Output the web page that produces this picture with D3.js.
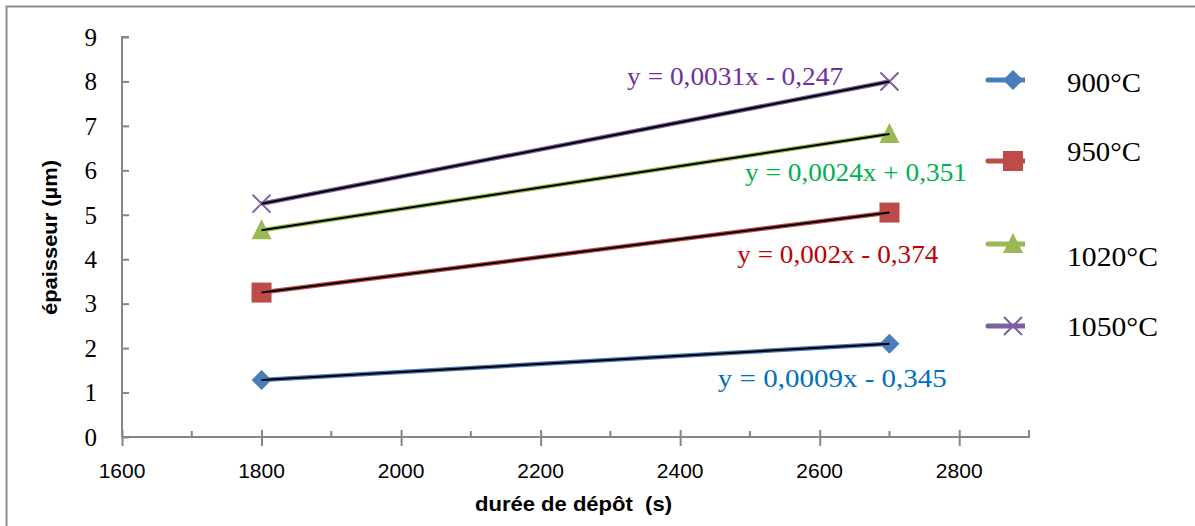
<!DOCTYPE html>
<html><head><meta charset="utf-8">
<script src="https://cdn.jsdelivr.net/npm/d3@7"></script>
<style>body{margin:0;background:#fff}svg{display:block}</style>
</head><body><svg id="c" width="1195" height="526"></svg>
<script>
const durations = [1800, 2700];
const seriesNames = ["900°C", "950°C", "1020°C", "1050°C"];
const values900 = [1.28, 2.10];
const values950 = [3.25, 5.05];
const values1020 = [4.65, 6.82];
const values1050 = [5.25, 8.00];
const equations = ["y = 0,0009x - 0,345", "y = 0,002x - 0,374", "y = 0,0024x + 0,351", "y = 0,0031x - 0,247"];
const xTicks = [1600, 1800, 2000, 2200, 2400, 2600, 2800];
const xMinorTicks = [1700, 1900, 2100, 2300, 2500, 2700];
const yTicks = [0, 1, 2, 3, 4, 5, 6, 7, 8, 9];

const seriesValues = [values900, values950, values1020, values1050];
const colors = ["#4a7ebb", "#be4b48", "#98b954", "#7d60a0"];
const eqColors = ["#0070c0", "#c00000", "#00b050", "#7030a0"];
const symbols = ["diamond", "square", "triangle", "x"];
// label anchor in data coordinates (x, baseline y) and width in px
const eqPos = [[2454, 1.12], [2482, 3.92], [2493, 5.76], [2324, 7.92]];
const eqWidth = [229, 201, 222, 216];

const svg = d3.select("#c");
svg.append("rect").attr("x", 6.5).attr("y", 6.5).attr("width", 1200).attr("height", 530)
  .attr("fill", "#fff").attr("stroke", "#8c8c8c").attr("stroke-width", 2);

const x = d3.scaleLinear().domain([1600, 2900]).range([122, 1029]);
const y = d3.scaleLinear().domain([0, 9]).range([437, 37]);
const axisColor = "#868686";
const serif = "'Liberation Serif', 'DejaVu Serif', serif";
const sans = "'Liberation Sans Narrow', 'Liberation Sans', sans-serif";

// y axis
const gy = svg.append("g").attr("transform", "translate(122,0)");
gy.call(d3.axisRight(y).tickValues(yTicks).tickSize(7).tickFormat(""));
gy.select(".domain").attr("stroke", axisColor).attr("stroke-width", 2).attr("d", `M7,${y(9)}H0V${y(0)}`);
gy.selectAll(".tick line").attr("stroke", axisColor).attr("stroke-width", 2);
svg.append("g").selectAll("text").data(yTicks).join("text")
  .attr("x", 97).attr("y", d => y(d)).attr("dy", "0.35em").attr("text-anchor", "end")
  .attr("font-family", serif).attr("font-size", 25)
  .attr("fill", "#000").text(d => d);

// x axis
const gx = svg.append("g").attr("transform", `translate(0,${y(0)})`);
gx.call(d3.axisBottom(x).tickValues(xTicks).tickSizeInner(9).tickSizeOuter(0).tickFormat(""));
gx.select(".domain").attr("stroke", axisColor).attr("stroke-width", 2).attr("d", `M${x(1600)},0H${x(2900)}V-7`);
gx.selectAll(".tick line").attr("stroke", axisColor).attr("stroke-width", 2).attr("y1", -7).attr("y2", 9);
gx.append("g").selectAll("line").data(xMinorTicks).join("line")
  .attr("x1", d => x(d)).attr("x2", d => x(d)).attr("y1", -6).attr("y2", 0)
  .attr("stroke", axisColor).attr("stroke-width", 2);
svg.append("g").selectAll("text").data(xTicks).join("text")
  .attr("x", d => x(d)).attr("y", 478).attr("text-anchor", "middle")
  .attr("font-family", sans).attr("font-size", 21)
  .attr("fill", "#000").text(d => d);

// axis titles
svg.append("text").attr("x", 475).attr("y", 511)
  .attr("font-family", sans).attr("font-weight", "bold")
  .attr("font-size", 21).attr("fill", "#000").attr("xml:space", "preserve")
  .attr("textLength", 197).attr("lengthAdjust", "spacingAndGlyphs").text("durée de dépôt  (s)");
svg.append("text").attr("transform", "translate(57,315) rotate(-90)")
  .attr("font-family", sans).attr("font-weight", "bold")
  .attr("font-size", 21).attr("fill", "#000")
  .attr("textLength", 155).attr("lengthAdjust", "spacingAndGlyphs").text("épaisseur (µm)");

function drawMarker(g, type, cx, cy, color) {
  if (type === "diamond") {
    g.append("path").attr("d", `M${cx},${cy-10}L${cx+10},${cy}L${cx},${cy+10}L${cx-10},${cy}Z`).attr("fill", color);
  } else if (type === "square") {
    g.append("rect").attr("x", cx-10).attr("y", cy-10).attr("width", 20).attr("height", 20).attr("fill", color);
  } else if (type === "triangle") {
    g.append("path").attr("d", `M${cx},${cy-11}L${cx+10},${cy+9}L${cx-10},${cy+9}Z`).attr("fill", color);
  } else {
    g.append("path").attr("d", `M${cx-9},${cy-9}L${cx+9},${cy+9}M${cx+9},${cy-9}L${cx-9},${cy+9}`)
      .attr("stroke", color).attr("stroke-width", 2).attr("fill", "none");
  }
}

const line = d3.line().x(d => x(d[0])).y(d => y(d[1]));
seriesValues.forEach((vals, i) => {
  const pts = durations.map((d, j) => [d, vals[j]]);
  const g = svg.append("g");
  g.append("path").attr("d", line(pts)).attr("stroke", colors[i]).attr("stroke-width", 4.5).attr("fill", "none");
  pts.forEach(p => drawMarker(g, symbols[i], x(p[0]), y(p[1]), colors[i]));
  // linear trendline (black)
  g.append("path").attr("d", line(pts)).attr("stroke", "#000").attr("stroke-width", 2).attr("fill", "none");
  svg.append("text").attr("x", x(eqPos[i][0])).attr("y", y(eqPos[i][1]))
    .attr("font-family", serif).attr("font-size", 25)
    .attr("textLength", eqWidth[i]).attr("lengthAdjust", "spacingAndGlyphs")
    .attr("fill", eqColors[i]).text(equations[i]);
});

// legend
const legendY = [80, 161, 244, 326];
const labelY = [92, 161, 266, 336];
const labelW = [74, 74, 91, 91];
svg.append("defs").append("clipPath").attr("id", "lc").append("rect")
  .attr("x", 980).attr("y", 0).attr("width", 45).attr("height", 526);
seriesNames.forEach((name, i) => {
  const g = svg.append("g").attr("clip-path", "url(#lc)");
  g.append("line").attr("x1", 988).attr("x2", 1025).attr("y1", legendY[i]).attr("y2", legendY[i])
    .attr("stroke", colors[i]).attr("stroke-width", 5).attr("stroke-linecap", "round");
  drawMarker(g, symbols[i], 1013, legendY[i], colors[i]);
  svg.append("text").attr("x", 1067).attr("y", labelY[i])
    .attr("font-family", serif).attr("font-size", 28)
    .attr("textLength", labelW[i]).attr("lengthAdjust", "spacingAndGlyphs")
    .attr("fill", "#000").text(name);
});
</script></body></html>
